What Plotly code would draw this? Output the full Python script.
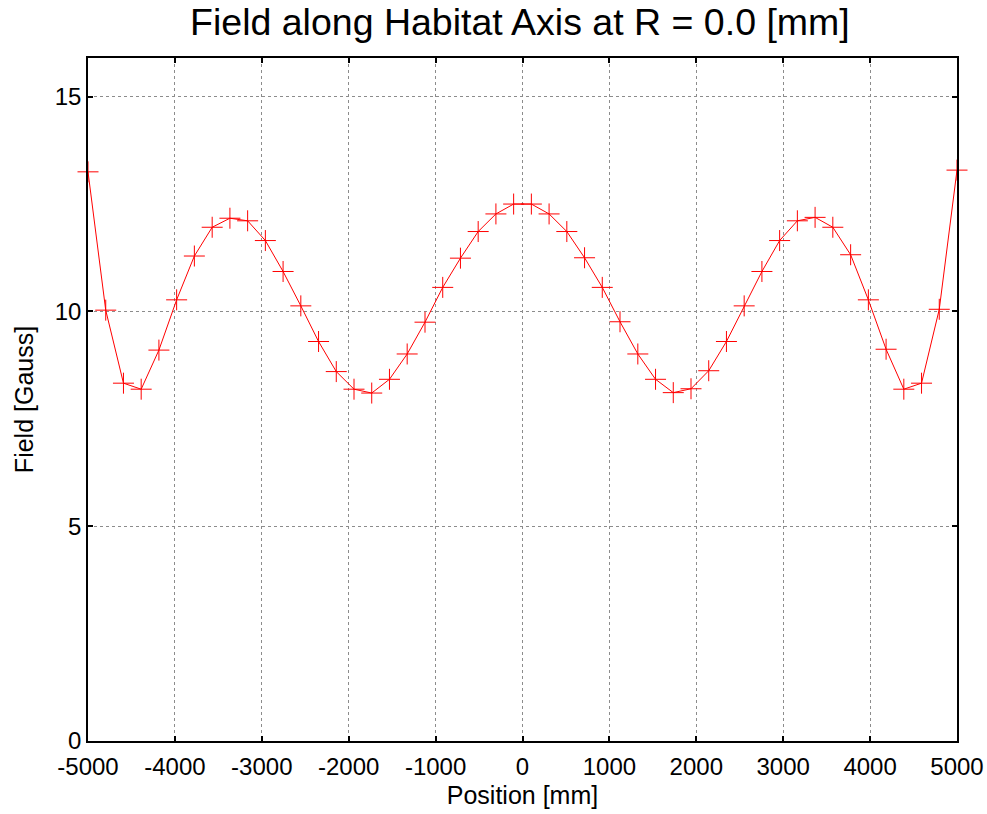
import plotly.graph_objects as go

# Positions along the habitat axis [mm] (50 evenly spaced samples)
position_mm = [
    -5000, -4796, -4592, -4388, -4184, -3980, -3776, -3571, -3367, -3163,
    -2959, -2755, -2551, -2347, -2143, -1939, -1735, -1531, -1327, -1122,
    -918, -714, -510, -306, -102, 102, 306, 510, 714, 918,
    1122, 1327, 1531, 1735, 1939, 2143, 2347, 2551, 2755, 2959,
    3163, 3367, 3571, 3776, 3980, 4184, 4388, 4592, 4796, 5000,
]

# Field magnitude [Gauss]
field_gauss = [
    13.25, 10.03, 8.33, 8.19, 9.10, 10.27, 11.29, 11.96, 12.17, 12.11,
    11.65, 10.93, 10.13, 9.30, 8.60, 8.19, 8.10, 8.42, 9.01, 9.75,
    10.56, 11.24, 11.86, 12.27, 12.50, 12.50, 12.27, 11.86, 11.25, 10.56,
    9.76, 9.01, 8.42, 8.11, 8.20, 8.62, 9.30, 10.13, 10.93, 11.65,
    12.11, 12.19, 11.96, 11.32, 10.27, 9.12, 8.19, 8.33, 10.05, 13.29,
]

x_ticks = [-5000, -4000, -3000, -2000, -1000, 0, 1000, 2000, 3000, 4000, 5000]
y_ticks = [0, 5, 10, 15]

FONT = "Liberation Sans, Arial, Helvetica, sans-serif"

fig = go.Figure()
fig.add_trace(go.Scatter(
    x=position_mm,
    y=field_gauss,
    mode="lines+markers",
    line=dict(color="#ff0000", width=1),
    marker=dict(symbol="cross-thin", size=15,
                line=dict(color="#ff0000", width=1), color="#ff0000"),
    cliponaxis=False,
    showlegend=False,
))

axis_common = dict(
    showline=True, linecolor="black", linewidth=1.5, mirror="allticks",
    ticks="inside", ticklen=5, tickcolor="black", tickwidth=1.5,
    showgrid=True, gridcolor="#8c8c8c", gridwidth=1, griddash="dot",
    zeroline=False, automargin=False,
    tickfont=dict(family=FONT, size=24, color="black"),
)

fig.update_layout(
    width=987, height=814,
    margin=dict(l=88, r=30, t=58, b=73),
    paper_bgcolor="white", plot_bgcolor="white",
    title=dict(text="Field along Habitat Axis at R = 0.0 [mm]",
               font=dict(family=FONT, size=37.5, color="black"),
               x=0.497, xanchor="center", xref="paper",
               y=1 - 22 / 814, yanchor="middle", yref="container"),
    xaxis=dict(range=[-5000, 5000], tickvals=x_ticks,
               ticktext=[str(v) for v in x_ticks],
               ticklabelstandoff=3,
               title=dict(text="Position [mm]",
                          font=dict(family=FONT, size=25, color="black"),
                          standoff=8),
               **axis_common),
    yaxis=dict(range=[0, 15.9], tickvals=y_ticks,
               ticktext=[str(v) for v in y_ticks],
               title=dict(text="Field [Gauss]",
                          font=dict(family=FONT, size=25, color="black"),
                          standoff=14),
               **axis_common),
)

fig.write_html("out.html")
